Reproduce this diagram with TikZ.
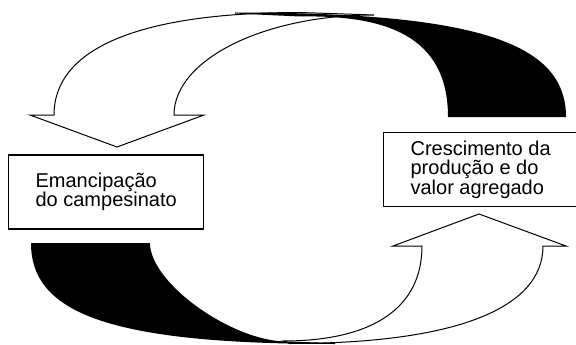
\documentclass[tikz,border=0pt]{standalone}
\usepackage{fontspec}
\setmainfont{Liberation Sans}
\tikzset{
  caixa/.style={draw, line width=1.2pt, fill=white, align=left, inner xsep=27pt,
    minimum height=74pt, anchor=west, font=\fontsize{20}{19.5}\selectfont},
  faixa/.style={draw, line width=1pt, fill=white},
  costas/.style={fill=black}
}
\begin{document}
\begin{tikzpicture}[x=1pt,y=-1pt] %Coordenadas em pixels, y para baixo
  \useasboundingbox (0,0) rectangle (576,345);
  \clip (0,0) rectangle (576,345);
    %Seta de cima
  \draw[faixa] (174,115) -- (204,115) -- (117,147) -- (30,115) -- (54,115)
    .. controls (54,48) and (140,12.5) .. (300,12.5) -- (374,15)
    .. controls (263.6,15) and (174,59.8) .. (174,115) -- cycle;
  \fill[costas] (235,12.5) .. controls (474.7,12.5) and (566,41.8) .. (566,117) -- (448,117)
    .. controls (448,35.4) and (385.6,15) .. (300,16.5) -- (235,13.5) -- cycle; %Parte de tras
    %Seta de baixo
  \draw[faixa] (422,246) -- (393,246) -- (479,214) -- (566,246) -- (543,246)
    .. controls (543,309) and (454,343.5) .. (290,343.5) -- (283,341)
    .. controls (373,341) and (422,307.75) .. (422,246) -- cycle;
  \fill[costas] (31,243) .. controls (31,313) and (109,344) .. (335,344) -- (335,343)
    -- (285,341.5) .. controls (230,340) and (150,282.6) .. (150,243) -- cycle; %Parte de tras
    %Caixas
  \node[caixa] (emancipacao) at (8,192) {Emancipação\\do campesinato};
  \node[caixa] (crescimento) at (383,169.5) {Crescimento da\\produção e do\\valor agregado};
\end{tikzpicture}
\end{document}
